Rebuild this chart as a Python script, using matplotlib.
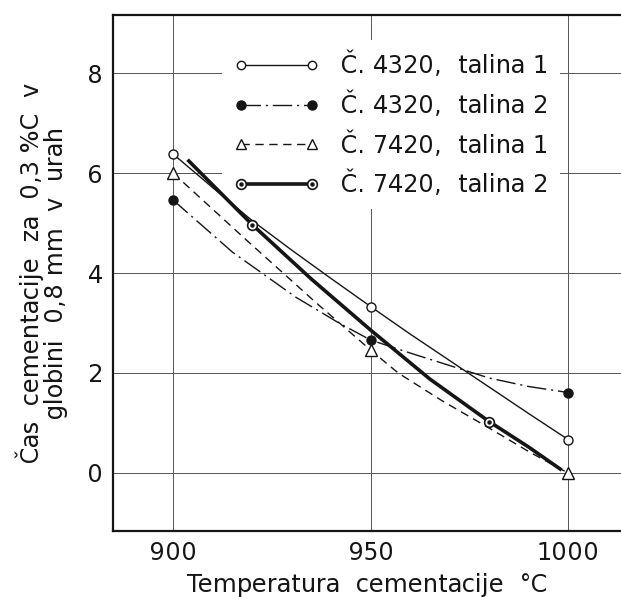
import matplotlib
matplotlib.use("Agg")
import matplotlib.pyplot as plt
from matplotlib.lines import Line2D
from matplotlib.legend_handler import HandlerTuple

# podatki odčitani z diagrama
# Č. 4320, talina 1
t1_tocke = [900, 950, 1000]
c1_tocke = [6.38, 3.33, 0.67]
t1_krivulja = [900, 910, 920, 930, 940, 950, 960, 970, 980, 990, 1000]
c1_krivulja = [6.38, 5.71, 5.05, 4.46, 3.89, 3.33, 2.78, 2.25, 1.72, 1.19, 0.67]

# Č. 4320, talina 2
t2_tocke = [900, 950, 1000]
c2_tocke = [5.46, 2.66, 1.61]
t2_krivulja = [900, 915, 931, 942, 950, 960, 970, 980, 990, 1000]
c2_krivulja = [5.46, 4.42, 3.52, 3.00, 2.66, 2.40, 2.15, 1.90, 1.73, 1.61]

# Č. 7420, talina 1
t3_tocke = [900, 950, 1000]
c3_tocke = [6.0, 2.46, 0.0]
t3_krivulja = [900, 918, 936, 950, 957, 968, 980, 990, 1000]
c3_krivulja = [6.0, 4.70, 3.42, 2.46, 2.0, 1.45, 0.90, 0.43, 0.0]

# Č. 7420, talina 2
t4_tocke = [920, 980]
c4_tocke = [4.97, 1.03]
t4_krivulja = [904, 920, 935, 950, 965, 980, 990, 998]
c4_krivulja = [6.24, 4.97, 3.88, 2.86, 1.88, 1.03, 0.52, 0.08]

C = "\u010c"
oznake = [C + ". 4320,  talina 1", C + ". 4320,  talina 2",
          C + ". 7420,  talina 1", C + ". 7420,  talina 2"]

x_ticks = [900, 950, 1000]
y_ticks = [0, 2, 4, 6, 8]

crna = "#151515"
plt.rcParams['font.family'] = ['DejaVu Sans']
plt.rcParams['text.hinting_factor'] = 1

fig = plt.figure(figsize=(6.21, 5.97), dpi=100)
ax = fig.add_axes([113 / 621, 66 / 597, 508 / 621, 516 / 597])

# mreža
ax.set_xticks(x_ticks)
ax.set_yticks(y_ticks)
ax.grid(True, color="#555555", linewidth=0.7)
ax.set_axisbelow(True)
ax.set_xlim(884.8, 1013.4)
ax.set_ylim(-1.16, 9.16)

crtkano = (0, (6, 4))
crta_pika = (0, (14, 3.5, 1.5, 3.5))

ax.plot(t1_krivulja, c1_krivulja, color=crna, lw=1.0, ls="-")
ax.plot(t2_krivulja, c2_krivulja, color=crna, lw=1.0, ls=crta_pika)
ax.plot(t3_krivulja, c3_krivulja, color=crna, lw=1.0, ls=crtkano)
ax.plot(t4_krivulja, c4_krivulja, color=crna, lw=2.6, ls="-")

ax.plot(t1_tocke, c1_tocke, ls="none", marker="o", ms=6.5, mfc="white", mec=crna, mew=1.0, zorder=5)
ax.plot(t2_tocke, c2_tocke, ls="none", marker="o", ms=6.5, mfc=crna, mec=crna, zorder=5)
ax.plot(t3_tocke, c3_tocke, ls="none", marker="^", ms=8, mfc="white", mec=crna, mew=1.0, zorder=5)
ax.plot(t4_tocke, c4_tocke, ls="none", marker="o", ms=7, mfc="white", mec=crna, mew=1.2, zorder=5)
ax.plot(t4_tocke, c4_tocke, ls="none", marker="o", ms=2.2, mfc=crna, mec=crna, zorder=6)

# legenda
h1 = Line2D([], [], color=crna, lw=1.0, marker="o", ms=6, mfc="white", mec=crna)
h2 = Line2D([], [], color=crna, lw=1.0, ls=crta_pika, marker="o", ms=6.5, mfc=crna, mec=crna)
h3 = Line2D([], [], color=crna, lw=1.0, ls=crtkano, marker="^", ms=7.5, mfc="white", mec=crna)
h4a = Line2D([], [], color=crna, lw=2.6, marker="o", ms=7, mfc="white", mec=crna, mew=1.2)
h4b = Line2D([], [], ls="none", marker="o", ms=2.2, mfc=crna, mec=crna)

leg = ax.legend([h1, h2, h3, (h4a, h4b)], oznake,
                handler_map={tuple: HandlerTuple(ndivide=1)},
                loc="upper left", bbox_to_anchor=(0.2146, 0.952), borderaxespad=0,
                fontsize=17, numpoints=2, handlelength=3.6, handletextpad=0.95,
                labelspacing=0.56, borderpad=0.5, frameon=True, fancybox=False,
                framealpha=1, facecolor="white", edgecolor="none")
leg.set_zorder(1)
for t in leg.get_texts():
    t.set_color(crna)

# osi
ax.tick_params(length=0, labelsize=17, colors=crna, pad=7)
for lab in ax.get_xticklabels() + ax.get_yticklabels():
    lab.set_fontfamily(['Liberation Sans Narrow', 'DejaVu Sans'])
for s in ["left", "bottom", "top"]:
    ax.spines[s].set_linewidth(1.6)
    ax.spines[s].set_color(crna)
ax.spines["right"].set_visible(False)

ax.set_xlabel("Temperatura  cementacije  °C", fontsize=17, color=crna, va="center")
ax.xaxis.set_label_coords(0.5, -0.105)
ax.set_ylabel(C + "as  cementacije  za  0,3 %C  v\nglobini  0,8 mm  v  urah",
              fontsize=17, color=crna, va="center", linespacing=1.0)
ax.yaxis.set_label_coords(-0.141, 0.5)

fig.savefig("out.png", dpi=100, facecolor="white")
